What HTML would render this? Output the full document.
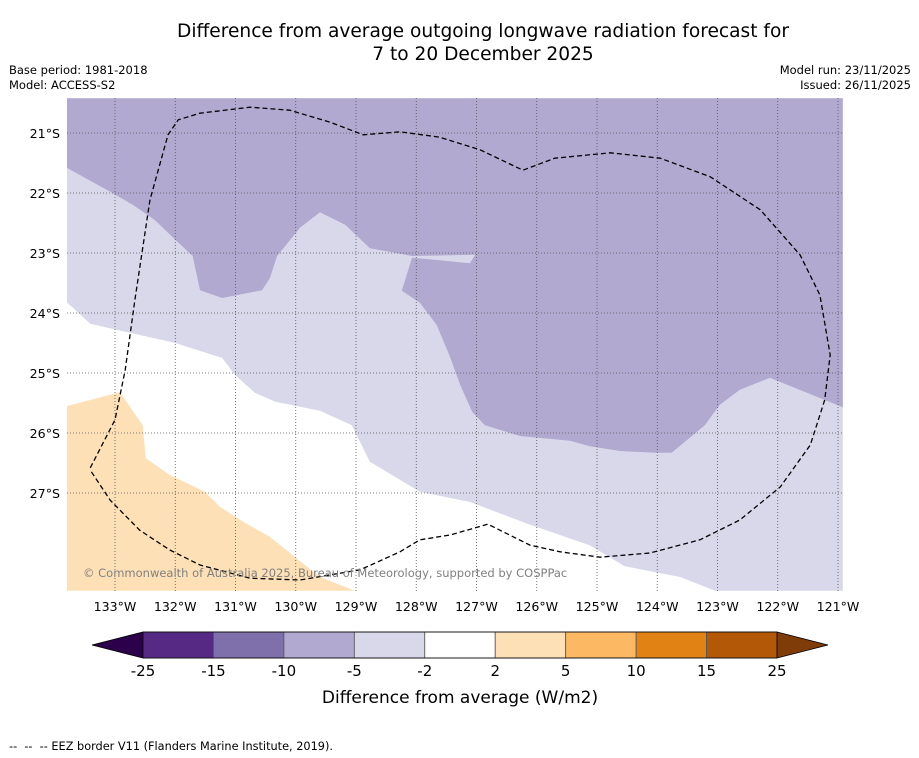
<!DOCTYPE html>
<html><head><meta charset="utf-8">
<style>
body{margin:0;background:#fff;font-family:"DejaVu Sans","Liberation Sans",sans-serif;}
#wrap{position:relative;width:919px;height:758px;overflow:hidden;}
.t{position:absolute;white-space:nowrap;}
</style></head>
<body>
<div id="wrap">
<div class="t" style="left:0;width:966px;top:20px;text-align:center;font-size:18.6px;line-height:23px;">Difference from average outgoing longwave radiation forecast for<br>7 to 20 December 2025</div>
<div class="t" style="left:9px;top:63px;font-size:11.5px;line-height:15px;">Base period: 1981-2018<br>Model: ACCESS-S2</div>
<div class="t" style="right:8px;top:63px;font-size:11.5px;line-height:15px;text-align:right;">Model run: 23/11/2025<br>Issued: 26/11/2025</div>
<svg id="svg" width="919" height="758" style="position:absolute;left:0;top:0"></svg>
<div class="t" style="left:9px;top:740px;font-size:11.3px;">--&nbsp; --&nbsp; -- EEZ border V11 (Flanders Marine Institute, 2019).</div>
</div>
<script>
const lonTicks=[133,132,131,130,129,128,127,126,125,124,123,122,121];
const latTicks=[21,22,23,24,25,26,27];
const lightRegion=[[133.8,20.42],[120.92,20.42],[120.92,28.63],[123.04,28.63],[123.62,28.4],[124.54,28.22],[125.12,27.87],[126.11,27.53],[127.11,27.15],[127.94,26.98],[128.77,26.48],[129.07,25.87],[129.6,25.63],[130.34,25.48],[130.68,25.33],[131.01,25.03],[131.22,24.75],[132.0,24.5],[132.75,24.33],[133.41,24.18],[133.8,23.82]];
const darkRegion=[[133.8,20.42],[120.92,20.42],[120.92,25.57],[122.13,25.08],[122.63,25.28],[122.96,25.53],[123.21,25.87],[123.76,26.33],[124.04,26.33],[124.62,26.3],[125.12,26.22],[125.45,26.13],[126.28,26.05],[126.86,25.87],[127.07,25.65],[127.27,25.2],[127.44,24.73],[127.66,24.2],[127.94,23.83],[128.24,23.63],[128.07,23.08],[127.61,23.12],[127.11,23.17],[127.02,23.03],[128.07,23.05],[128.77,22.92],[129.18,22.53],[129.6,22.32],[129.93,22.58],[130.31,23.05],[130.43,23.42],[130.56,23.62],[131.22,23.75],[131.59,23.62],[131.71,23.05],[132.0,22.78],[132.34,22.45],[132.7,22.2],[133.08,21.98],[133.8,21.58]];
const orangeRegion=[[133.8,25.55],[132.92,25.32],[132.54,25.87],[132.49,26.42],[132.09,26.7],[131.51,26.98],[131.26,27.23],[130.84,27.5],[130.43,27.73],[130.01,28.07],[129.6,28.4],[129.02,28.63],[133.8,28.63]];
const eezLine=[[133.41,26.58],[133.0,25.78],[132.83,24.95],[132.67,23.78],[132.42,22.12],[132.12,21.03],[131.95,20.78],[131.59,20.67],[130.76,20.57],[130.1,20.62],[129.43,20.82],[128.88,21.03],[128.27,20.98],[127.61,21.07],[126.94,21.28],[126.23,21.62],[125.7,21.42],[124.78,21.33],[123.95,21.42],[123.12,21.73],[122.29,22.28],[121.63,23.03],[121.3,23.7],[121.13,24.7],[121.22,25.45],[121.46,26.2],[121.96,26.9],[122.63,27.45],[123.29,27.78],[124.12,28.0],[124.95,28.07],[125.61,27.98],[126.11,27.87],[126.81,27.52],[127.44,27.7],[127.94,27.78],[128.27,27.98],[128.93,28.28],[129.93,28.45],[130.76,28.42],[131.59,28.2],[132.09,27.95],[132.59,27.62],[133.08,27.12],[133.41,26.62]];
const cbBounds=[-25,-15,-10,-5,-2,2,5,10,15,25];
const cbColors=['#562a84','#7f6fab','#b1a9d0','#d8d8ea','#ffffff','#fee0b6','#fdb863','#e08214','#b35806'];
const cbLow='#2d004b', cbHigh='#7f3b08';

const NS='http://www.w3.org/2000/svg';
const svg=document.getElementById('svg');
const mx0=67,mx1=843,my0=98,my1=591;
const xOf=lon=>115+(133-lon)*60.25;
const yOf=lat=>133+(lat-21)*60;
function el(tag,attrs,parent){const e=document.createElementNS(NS,tag);for(const k in attrs)e.setAttribute(k,attrs[k]);(parent||svg).appendChild(e);return e;}
const defs=el('defs',{});
const cp=el('clipPath',{id:'mc'},defs);el('rect',{x:mx0,y:my0,width:mx1-mx0,height:my1-my0},cp);
const g=el('g',{'clip-path':'url(#mc)'});


const bg=el('rect',{x:mx0,y:my0,width:mx1-mx0,height:my1-my0,fill:'#fff'},g);


const pts=a=>a.map(p=>xOf(p[0]).toFixed(1)+','+yOf(p[1]).toFixed(1)).join(' ');
const r1=el('polygon',{points:pts(lightRegion),fill:'#d8d8ea'},g);


const r2=el('polygon',{points:pts(darkRegion),fill:'#b1a9d0'},g);


const r3=el('polygon',{points:pts(orangeRegion),fill:'#fee0b6'},g);


lonTicks.forEach(l=>{const x=xOf(l);
 const gl=el('line',{x1:x,x2:x,y1:my0,y2:my1,stroke:'#555','stroke-width':0.8,'stroke-dasharray':'1,2'},g);
 
 
 const t=el('text',{x:x,y:611,'font-size':12.6,'text-anchor':'middle'});t.textContent=l+'°W';
 
 
});
latTicks.forEach(l=>{const y=yOf(l);
 const gl=el('line',{x1:mx0,x2:mx1,y1:y,y2:y,stroke:'#555','stroke-width':0.8,'stroke-dasharray':'1,2'},g);
 
 
 const t=el('text',{x:60,y:y+5,'font-size':12.6,'text-anchor':'end'});t.textContent=l+'°S';
 
 
});
const eez=el('polyline',{points:pts(eezLine),fill:'none',stroke:'#000','stroke-width':1.3,'stroke-dasharray':'5,3'},g);


const wm=el('text',{x:83,y:577,'font-size':11.5,fill:'#808080'},g);wm.textContent='© Commonwealth of Australia 2025, Bureau of Meteorology, supported by COSPPac';



const cx0=143,cx1=777,cy0=632,cy1=658;
const segW=(cx1-cx0)/(cbBounds.length-1);
const cb=el('g',{});


const lt=el('polygon',{points:`${cx0},${cy0} ${cx0},${cy1} 92,${(cy0+cy1)/2}`,fill:cbLow,stroke:'#000','stroke-width':0.8},cb);


const rt=el('polygon',{points:`${cx1},${cy0} ${cx1},${cy1} 828,${(cy0+cy1)/2}`,fill:cbHigh,stroke:'#000','stroke-width':0.8},cb);


cbColors.forEach((c,i)=>{
 const r=el('rect',{x:cx0+i*segW,y:cy0,width:segW,height:cy1-cy0,fill:c,stroke:'#555','stroke-width':0.8},cb);
 
 
});
el('rect',{x:cx0,y:cy0,width:cx1-cx0,height:cy1-cy0,fill:'none',stroke:'#000','stroke-width':0.8},cb);
cbBounds.forEach((b,i)=>{
 const t=el('text',{x:cx0+i*segW,y:676,'font-size':15,'text-anchor':'middle'},cb);t.textContent=b;
 
 
});
const cl=el('text',{x:460,y:703,'font-size':17,'text-anchor':'middle'},cb);cl.textContent='Difference from average (W/m2)';


</script>
</body></html>
